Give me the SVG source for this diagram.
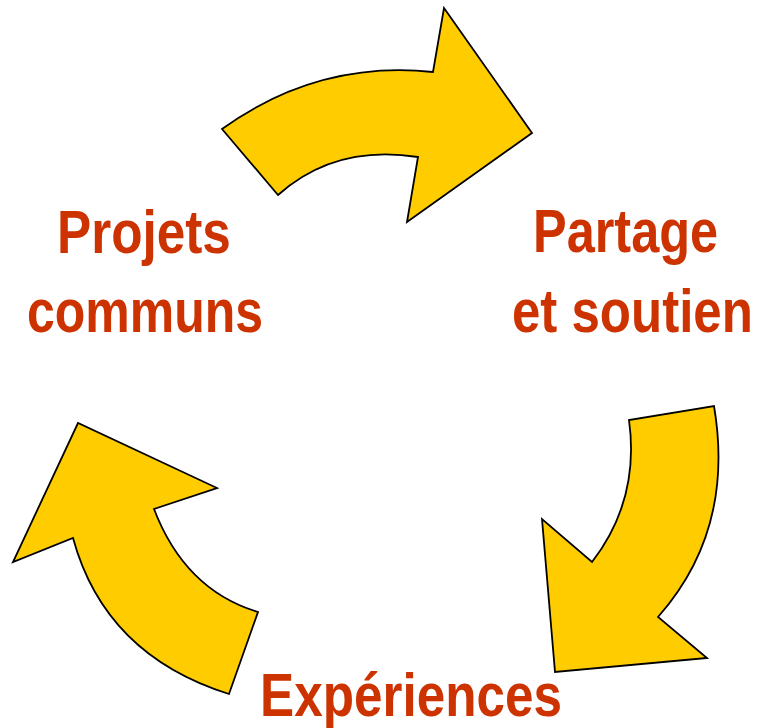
<svg xmlns="http://www.w3.org/2000/svg" width="761" height="728" viewBox="0 0 761 728">
<style>
.arrow{fill:#FFCC00;stroke:#000;stroke-width:1.8;stroke-linejoin:miter}
.lbl{font-family:"Liberation Sans",Arial,sans-serif;font-weight:bold;font-size:61px;fill:#CC3300}
</style>
<rect width="761" height="728" fill="#fff"/>
<g id="connectors">
<path id="arrow-top" class="arrow" d="M222,129 Q318,60 433,72 L444,8 L532,133 L407,222 L418,157 Q335,144 278,195 Z"/>
<path id="arrow-right" class="arrow" d="M714,406 Q735,530 658,617 L707,658 L555,672 L542,519 L592,562 Q640,500 629,420 Z"/>
<path id="arrow-left" class="arrow" d="M229,694 Q105,655 73,538 L13,562 L78,423 L217,488 L154,509 Q185,590 258,612 Z"/>
</g>
<g id="node-projets">
<text class="lbl" transform="translate(57,253) scale(0.841,1)">Projets</text>
<text class="lbl" transform="translate(27,332) scale(0.819,1)">communs</text>
</g>
<g id="node-partage">
<text class="lbl" transform="translate(533,252) scale(0.827,1)">Partage</text>
<text class="lbl" transform="translate(512,332) scale(0.836,1)">et soutien</text>
</g>
<g id="node-experiences">
<text class="lbl" transform="translate(260,716) scale(0.840,1)">Expériences</text>
</g>
</svg>
